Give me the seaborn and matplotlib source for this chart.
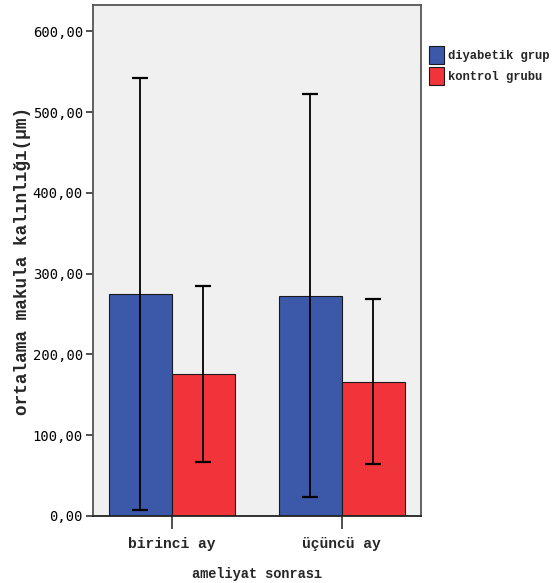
# Ortalama makula kalinligi: diyabetik grup vs kontrol grubu (bar + error bars)
import numpy as np
import pandas as pd
import matplotlib
matplotlib.use("Agg")
import matplotlib.pyplot as plt
import seaborn as sns

# --- Data ---
periods = ["birinci ay", "üçüncü ay"]
groups = ["diyabetik grup", "kontrol grubu"]
diyabetik_mean = [274.6, 272.9]
kontrol_mean = [175.8, 166.3]
diyabetik_err = [267.2, 249.3]
kontrol_err = [109.2, 102.3]

COLORS = ["#3C58A8", "#F0343A"]
LABEL_FONT = "Liberation Mono"

df = pd.DataFrame({
    "period": periods * 2,
    "group": [groups[0]] * 2 + [groups[1]] * 2,
    "value": diyabetik_mean + kontrol_mean,
    "err": diyabetik_err + kontrol_err,
})

sns.set_style("white")
fig = plt.figure(figsize=(5.55, 5.83), dpi=100)
ax = fig.add_axes([0.167, 0.115, 0.5916, 0.8756])
ax.set_facecolor("#F0F0F0")

sns.barplot(data=df, x="period", y="value", hue="group", order=periods,
            hue_order=groups, palette=COLORS, width=0.74, errorbar=None,
            edgecolor="#1a1a1a", linewidth=0.8, saturation=1, ax=ax)

# error bars at the centres of the bars seaborn drew
bars = [p for p in ax.patches if p.get_height() > 0][:len(df)]
for bar, (_, row) in zip(bars, df.iterrows()):
    cx = bar.get_x() + bar.get_width() / 2
    ax.errorbar(cx, bar.get_height(), yerr=row["err"], fmt="none",
                ecolor="black", elinewidth=1.3, capsize=5.8, capthick=1.6)

ax.set_ylim(0, 632)
ax.set_xlim(-0.466, 1.466)
yt = np.arange(0, 601, 100)
ax.set_yticks(yt)
ax.set_yticklabels([f"{v:.2f}".replace(".", ",") for v in yt],
                   family="DejaVu Sans Mono", fontsize=10, color="black")
ax.set_xticks(range(len(periods)))
ax.set_xticklabels(periods, family=LABEL_FONT, fontweight="bold", fontsize=10.5)
ax.tick_params(axis="y", direction="out", length=5, width=1.2, color="#333333", pad=2)
ax.tick_params(axis="x", direction="out", length=9, width=1.2, color="#333333", pad=6)
ax.tick_params(left=True, bottom=True)

for side in ["left", "right", "top", "bottom"]:
    ax.spines[side].set_visible(True)
    ax.spines[side].set_color("#555555")
    ax.spines[side].set_linewidth(1.3)
ax.spines["bottom"].set_color("#222222")

ax.set_xlabel("ameliyat sonrası", family=LABEL_FONT, fontweight="bold",
              fontsize=9.8, labelpad=12)
ax.set_ylabel("ortalama makula kalınlığı(μm)", family=LABEL_FONT,
              fontweight="bold", fontsize=12.8, labelpad=1)

ax.legend(loc="upper left", bbox_to_anchor=(423 / 555, 1 - 40 / 583),
          bbox_transform=fig.transFigure, frameon=False, borderpad=0,
          handlelength=1.25, handleheight=1.9, handletextpad=0.3,
          labelspacing=0.25, prop={"family": LABEL_FONT, "weight": "bold", "size": 8.7})

fig.savefig("out.png", dpi=100)
